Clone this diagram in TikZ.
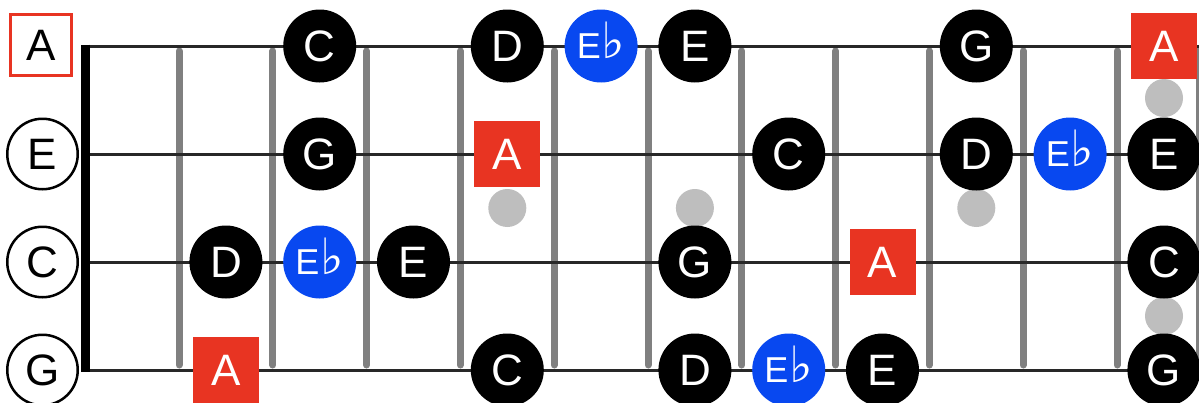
\documentclass[tikz,border=0pt]{standalone}
\usepackage{fontspec}
\setmainfont{Liberation Sans}
\newfontfamily\flatfont{DejaVu Sans}
\definecolor{rootred}{RGB}{232,52,34}
\definecolor{flatblue}{RGB}{8,72,240}
\definecolor{fretgrey}{RGB}{128,128,128}
\definecolor{dotgrey}{RGB}{190,190,190}
\definecolor{stringcol}{RGB}{40,40,40}
\newcommand{\eflat}{E\kern1pt\smash{\flatfont\fontsize{50}{50}\selectfont ♭}}
\begin{document}
\begin{tikzpicture}[x=1pt,y=-1pt,
  notecirc/.style={circle,fill=black,minimum size=73pt,inner sep=0pt,text=white,font=\fontsize{44}{44}\selectfont},
  flatcirc/.style={notecirc,fill=flatblue,font=\fontsize{36}{36}\selectfont},
  rootsq/.style={rectangle,fill=rootred,minimum size=66pt,inner sep=0pt,text=white,font=\fontsize{44}{44}\selectfont},
  openlab/.style={circle,draw=black,line width=2.5pt,fill=white,minimum size=70.5pt,inner sep=0pt,font=\fontsize{44}{44}\selectfont},
  openroot/.style={rectangle,draw=rootred,line width=3pt,fill=white,minimum size=61pt,inner sep=0pt,font=\fontsize{44}{44}\selectfont},
  fretline/.style={fretgrey,line width=7pt,line cap=round},
  stringline/.style={stringcol,line width=3pt},
  nutline/.style={black,line width=9pt},
  inlay/.style={circle,fill=dotgrey,minimum size=38pt,inner sep=0pt}]
\useasboundingbox (0,0) rectangle (1199,402);
\fill[white] (0,0) rectangle (1199,402);
\clip (0,0) rectangle (1199,402);

% frets
\foreach \x in {179.0,272.8,366.6,460.4,554.2,648.0,741.8,835.6,929.4,1023.2,1117.0}
  \draw[fretline] (\x,51) -- (\x,365);
\draw[fretgrey,line width=3pt] (1197.5,46) -- (1197.5,370);

% inlay dots
\node[inlay] (dot5)  at (507.3,208) {};
\node[inlay] (dot7)  at (694.9,208) {};
\node[inlay] (dot10) at (976.3,208) {};
\node[inlay] (dot12a) at (1164,98) {};
\node[inlay] (dot12b) at (1164,316) {};

% strings
\coordinate (sA0) at (85,46);  \coordinate (sA1) at (1199,46);
\coordinate (sE0) at (85,154); \coordinate (sE1) at (1199,154);
\coordinate (sC0) at (85,262); \coordinate (sC1) at (1199,262);
\coordinate (sG0) at (85,370); \coordinate (sG1) at (1199,370);
\draw[stringline] (sA0) -- (sA1);
\draw[stringline] (sE0) -- (sE1);
\draw[stringline] (sC0) -- (sC1);
\draw[stringline] (sG0) -- (sG1);

% nut
\coordinate (nutT) at (85.5,44.5);
\coordinate (nutB) at (85.5,372);
\draw[nutline] (nutT) -- (nutB);

% open string labels
\node[openroot] (openA) at (41,45) {A};
\node[openlab] (openE) at (42.5,154) {E};
\node[openlab] (openC) at (42.5,262) {C};
\node[openlab] (openG) at (42.5,370) {G};

% A string
\node[notecirc] (a3)  at (319.7,46) {C};
\node[notecirc] (a5)  at (507.3,46) {D};
\node[flatcirc] (a6)  at (601.1,46) {\eflat};
\node[notecirc] (a7)  at (694.9,46) {E};
\node[notecirc] (a10) at (976.3,46) {G};
\node[rootsq]   (a12) at (1163.9,46) {A};

% E string
\node[notecirc] (e3)  at (319.7,154) {G};
\node[rootsq]   (e5)  at (507.3,154) {A};
\node[notecirc] (e8)  at (788.7,154) {C};
\node[notecirc] (e10) at (976.3,154) {D};
\node[flatcirc] (e11) at (1070.1,154) {\eflat};
\node[notecirc] (e12) at (1163.9,154) {E};

% C string
\node[notecirc] (c2)  at (225.9,262) {D};
\node[flatcirc] (c3)  at (319.7,262) {\eflat};
\node[notecirc] (c4)  at (413.5,262) {E};
\node[notecirc] (c7)  at (694.9,262) {G};
\node[rootsq]   (c9)  at (882.5,262) {A};
\node[notecirc] (c12) at (1163.9,262) {C};

% G string
\node[rootsq]   (g2)  at (225.9,370) {A};
\node[notecirc] (g5)  at (507.3,370) {C};
\node[notecirc] (g7)  at (694.9,370) {D};
\node[flatcirc] (g8)  at (788.7,370) {\eflat};
\node[notecirc] (g9)  at (882.5,370) {E};
\node[notecirc] (g12) at (1163.9,370) {G};
\end{tikzpicture}
\end{document}
